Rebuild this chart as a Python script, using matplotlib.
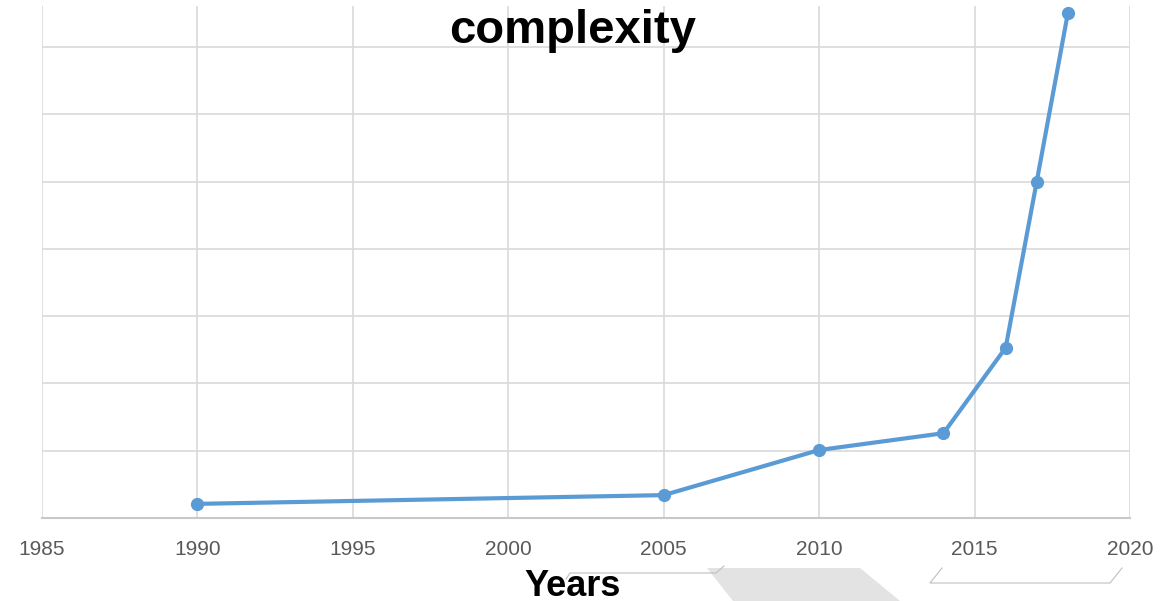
import matplotlib.pyplot as plt
from matplotlib.patches import Polygon

years = [1990, 2005, 2010, 2014, 2016, 2017, 2018]
complexity = [0.21, 0.34, 1.01, 1.26, 2.53, 5.0, 7.5]
xticks = [1985, 1990, 1995, 2000, 2005, 2010, 2015, 2020]
yticks = [0, 1, 2, 3, 4, 5, 6, 7]

W, H = 1170, 601
fig = plt.figure(figsize=(W / 100, H / 100), dpi=100)
ax = fig.add_axes([42 / W, (H - 518) / H, (1130 - 42) / W, (518 - 6) / H])

ax.plot(years, complexity, color='#5B9BD5', lw=3, marker='o', ms=8.5,
        solid_capstyle='round', clip_on=False, zorder=3)

ax.set_xlim(1985, 2020)
ax.set_ylim(0, (518 - 6) / 67.3)
ax.set_xticks(xticks)
ax.set_yticks(yticks)
ax.set_yticklabels([])
ax.grid(True, color='#D9D9D9', lw=1.2)
ax.tick_params(length=0, pad=16, labelsize=15, labelcolor='#595959')
for lab in ax.get_xticklabels():
    lab.set_fontfamily('Liberation Sans')
for side in ['top', 'right', 'left']:
    ax.spines[side].set_visible(False)
ax.spines['bottom'].set_color('#C8C8C8')
ax.spines['bottom'].set_linewidth(1.5)

fig.text(573 / W, 1 - 31 / H, 'complexity', ha='center', va='center',
         fontsize=34, fontweight='bold', family='Liberation Sans')
fig.text(573 / W, 1 - 587 / H, 'Years', ha='center', va='center',
         fontsize=26, fontweight='bold', family='Liberation Sans', zorder=5)

# faint shapes from the slide behind the chart
def fpts(pts):
    return [(x / W, 1 - y / H) for x, y in pts]

fig.patches.append(Polygon(fpts([(707, 568), (860, 568), (900, 601), (733, 601)]),
                           closed=True, facecolor='#E3E3E3', edgecolor='none',
                           transform=fig.transFigure, zorder=0))
fig.lines.append(plt.Line2D(*zip(*fpts([(566, 579), (570, 573), (716, 573), (724, 566)])),
                            transform=fig.transFigure, color='#BFBFBF', lw=0.8))
fig.lines.append(plt.Line2D(*zip(*fpts([(942, 568), (930, 583), (1110, 583), (1122, 568)])),
                            transform=fig.transFigure, color='#BFBFBF', lw=0.8))

fig.savefig('out.png', dpi=100)
